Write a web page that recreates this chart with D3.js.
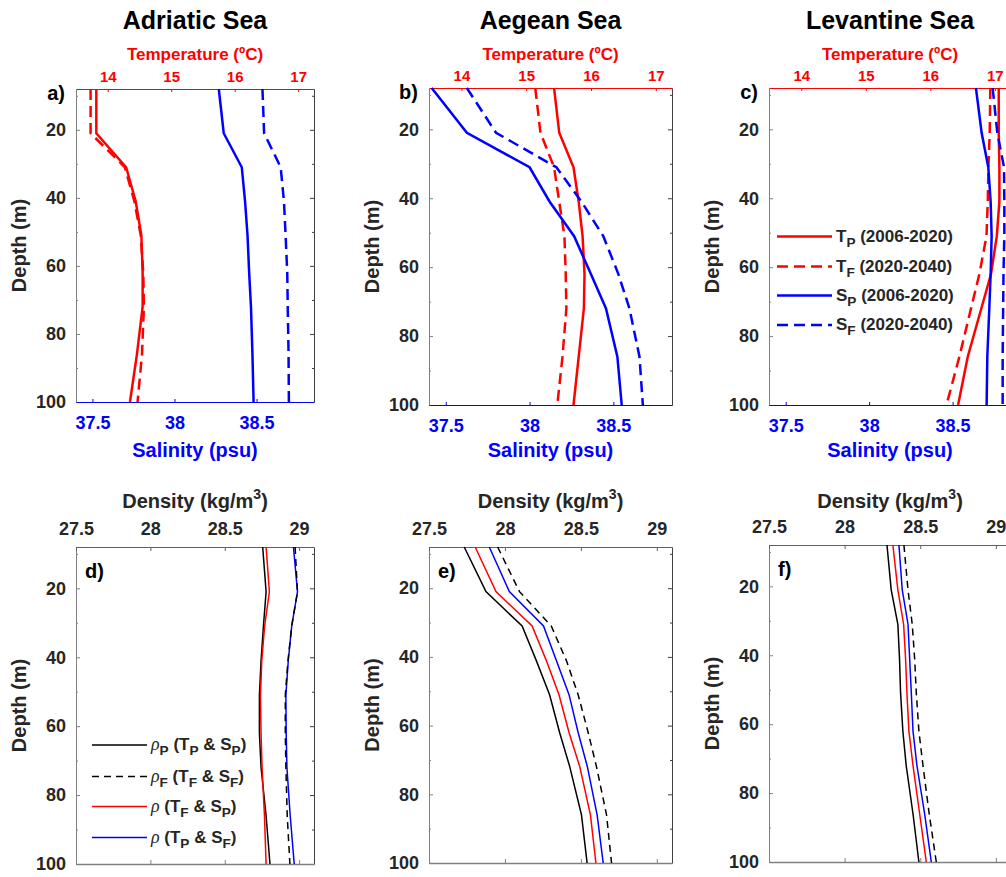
<!DOCTYPE html>
<html>
<head>
<meta charset="utf-8">
<script src="https://cdn.jsdelivr.net/npm/d3@7/dist/d3.min.js"></script>
<style>
  html, body { margin: 0; padding: 0; background: #fff; }
  svg { display: block; }
  text { font-family: "Liberation Sans", Arial, Helvetica, sans-serif; font-weight: bold; }
</style>
</head>
<body>
<svg id="chart" width="1006" height="877"></svg>
<script>
// ---------------- DATA ----------------
const depth = [8, 21, 31, 41, 51, 62, 72, 86, 100];
const regions = ["Adriatic Sea", "Aegean Sea", "Levantine Sea"];
const tempTicks = [14, 15, 16, 17];
const salTicks = [37.5, 38, 38.5];
const densTicks = [27.5, 28, 28.5, 29];
const depthTicks = [20, 40, 60, 80, 100];
const depthMinorTicks = [10, 30, 50, 70, 90];

// Temperature (ºC)
const tempPresent = [
  [13.82, 13.82, 14.29, 14.44, 14.53, 14.55, 14.55, 14.46, 14.35],   // Adriatic
  [15.43, 15.51, 15.73, 15.81, 15.87, 15.90, 15.89, 15.81, 15.73],   // Aegean
  [17.06, 17.06, 17.07, 17.07, 17.03, 16.94, 16.79, 16.58, 16.43]    // Levantine
];
const tempFuture = [
  [13.73, 13.73, 14.27, 14.42, 14.52, 14.56, 14.57, 14.54, 14.47],
  [15.14, 15.22, 15.43, 15.51, 15.59, 15.61, 15.62, 15.56, 15.48],
  [16.93, 16.92, 16.90, 16.89, 16.87, 16.76, 16.63, 16.45, 16.25]
];
// Salinity (psu)
const salPresent = [
  [38.27, 38.30, 38.41, 38.43, 38.445, 38.455, 38.466, 38.475, 38.482],
  [37.416, 37.626, 38.0, 38.12, 38.266, 38.366, 38.456, 38.524, 38.55],
  [38.64, 38.674, 38.714, 38.728, 38.734, 38.728, 38.72, 38.708, 38.704]
];
const salFuture = [
  [38.536, 38.546, 38.647, 38.667, 38.677, 38.687, 38.69, 38.695, 38.697],
  [37.626, 37.80, 38.16, 38.31, 38.44, 38.53, 38.596, 38.656, 38.676],
  [38.74, 38.768, 38.808, 38.81, 38.81, 38.805, 38.803, 38.80, 38.80]
];
// Density (kg/m3)
const rhoPresent = [
  [28.755, 28.778, 28.76, 28.744, 28.733, 28.733, 28.744, 28.778, 28.804],
  [27.732, 27.875, 28.113, 28.206, 28.294, 28.36, 28.427, 28.504, 28.541],
  [28.28, 28.308, 28.352, 28.363, 28.37, 28.385, 28.407, 28.452, 28.491]
];
const rhoFuture = [
  [28.973, 28.989, 28.95, 28.925, 28.907, 28.907, 28.911, 28.92, 28.938],
  [27.952, 28.096, 28.305, 28.404, 28.482, 28.548, 28.603, 28.669, 28.702],
  [28.392, 28.419, 28.447, 28.463, 28.474, 28.491, 28.518, 28.559, 28.606]
];
const rhoTfSp = [
  [28.778, 28.80, 28.768, 28.749, 28.74, 28.744, 28.751, 28.767, 28.778],
  [27.804, 27.941, 28.179, 28.272, 28.356, 28.422, 28.493, 28.563, 28.599],
  [28.319, 28.352, 28.39, 28.403, 28.412, 28.425, 28.452, 28.496, 28.54]
];
const rhoTpSf = [
  [28.962, 28.989, 28.95, 28.927, 28.911, 28.913, 28.918, 28.94, 28.967],
  [27.897, 28.029, 28.254, 28.338, 28.422, 28.482, 28.543, 28.607, 28.647],
  [28.359, 28.381, 28.419, 28.43, 28.441, 28.452, 28.478, 28.529, 28.573]
];
const panelLetters = [["a)", "b)", "c)"], ["d)", "e)", "f)"]];

// ---------------- LAYOUT ----------------
const topBoxes = [
  {x0: 76, x1: 314, y0: 89, y1: 402},
  {x0: 429, x1: 672, y0: 88, y1: 405},
  {x0: 769, x1: 1011, y0: 88, y1: 405}
];
const botBoxes = [
  {x0: 76, x1: 314, y0: 547, y1: 864},
  {x0: 429, x1: 672, y0: 547, y1: 863},
  {x0: 769, x1: 1011, y0: 545, y1: 862}
];
const TXT = "#262626";
const RED = "#ff0000";
const BLUE = "#0000ff";
const fmt = d => String(d);

const svg = d3.select("#chart");
svg.append("rect").attr("width", 1006).attr("height", 877).attr("fill", "#fff");

function richText(g, x, y, segs, size, anchor, color) {
  const t = g.append("text").attr("x", x).attr("y", y)
    .attr("font-size", size).attr("fill", color || TXT)
    .attr("text-anchor", anchor || "start");
  let shift = 0;
  segs.forEach(s => {
    const ts = t.append("tspan").text(s.t);
    let target = 0;
    if (s.sub) { target = size * 0.3; ts.attr("font-size", size * 0.8); }
    if (s.sup) { target = -size * 0.45; ts.attr("font-size", size * 0.7); }
    if (target !== shift) { ts.attr("dy", target - shift); shift = target; }
    if (s.italic) {
      ts.attr("font-style", "italic").attr("font-weight", "normal")
        .attr("font-family", "'Liberation Serif', 'DejaVu Serif', serif")
        .attr("font-size", size * 1.05);
    }
  });
  return t;
}

function styleAxis(g, color, fontSize) {
  g.select(".domain").attr("stroke", color);
  g.selectAll(".tick line").attr("stroke", color);
  g.selectAll(".tick text").attr("fill", color).attr("font-size", fontSize)
    .attr("font-family", "'Liberation Sans', Arial, sans-serif").attr("font-weight", "bold");
}

function depthAxes(g, b, y) {
  const left = g.append("g").attr("transform", `translate(${b.x0},0)`)
    .call(d3.axisLeft(y).tickValues(depthTicks).tickFormat(fmt).tickSizeInner(-4).tickSizeOuter(0).tickPadding(10));
  styleAxis(left, "#808080", 18);
  left.selectAll(".tick text").attr("fill", TXT);
  const leftMinor = g.append("g").attr("transform", `translate(${b.x0},0)`)
    .call(d3.axisLeft(y).tickValues(depthMinorTicks).tickSizeInner(-2).tickSizeOuter(0).tickFormat(""));
  leftMinor.select(".domain").remove();
  leftMinor.selectAll("line").attr("stroke", "#808080");
  const right = g.append("g").attr("transform", `translate(${b.x1},0)`)
    .call(d3.axisRight(y).tickValues(depthTicks).tickSizeInner(-4).tickSizeOuter(0).tickFormat(""));
  styleAxis(right, "#404040", 18);
  const rightMinor = g.append("g").attr("transform", `translate(${b.x1},0)`)
    .call(d3.axisRight(y).tickValues(depthMinorTicks).tickSizeInner(-2).tickSizeOuter(0).tickFormat(""));
  rightMinor.select(".domain").remove();
  rightMinor.selectAll("line").attr("stroke", "#404040");
  const cy = (b.y0 + b.y1) / 2;
  g.append("text").attr("transform", `translate(${b.x0 - 50},${cy}) rotate(-90)`)
    .attr("text-anchor", "middle").attr("font-size", 20).attr("fill", TXT).text("Depth (m)");
}

// ---------------- TOP ROW ----------------
topBoxes.forEach((b, i) => {
  const g = svg.append("g");
  const y = d3.scaleLinear().domain([8, 100]).range([b.y0, b.y1]);
  const xT = d3.scaleLinear().domain([13.5, 17.25]).range([b.x0, b.x1]);
  const xS = d3.scaleLinear().domain([37.4, 38.85]).range([b.x0, b.x1]);
  const cx = (b.x0 + b.x1) / 2;

  g.append("text").attr("x", cx).attr("y", 29).attr("text-anchor", "middle")
    .attr("font-size", 25).attr("fill", "#000").text(regions[i]);
  g.append("text").attr("x", cx).attr("y", 59.5).attr("text-anchor", "middle")
    .attr("font-size", 17).attr("fill", RED).text("Temperature (ºC)");
  g.append("text").attr("x", cx).attr("y", 457).attr("text-anchor", "middle")
    .attr("font-size", 20).attr("fill", BLUE).text("Salinity (psu)");

  depthAxes(g, b, y);

  const topAx = g.append("g").attr("transform", `translate(0,${b.y0})`)
    .call(d3.axisTop(xT).tickValues(tempTicks).tickFormat(fmt).tickSizeInner(-3).tickSizeOuter(0).tickPadding(7));
  styleAxis(topAx, RED, 15);
  const botAx = g.append("g").attr("transform", `translate(0,${b.y1})`)
    .call(d3.axisBottom(xS).tickValues(salTicks).tickFormat(fmt).tickSizeInner(-3).tickSizeOuter(0).tickPadding(14));
  styleAxis(botAx, BLUE, 18);

  g.append("text").attr("x", b.x0 - 11).attr("y", b.y0 + 11).attr("text-anchor", "end")
    .attr("font-size", 20).attr("fill", "#000").text(panelLetters[0][i]);

  const lineT = d3.line().x(d => xT(d[0])).y(d => y(d[1]));
  const lineS = d3.line().x(d => xS(d[0])).y(d => y(d[1]));
  const series = [
    {v: tempPresent[i], f: lineT, c: RED, dash: null},
    {v: tempFuture[i], f: lineT, c: RED, dash: "11,6"},
    {v: salPresent[i], f: lineS, c: BLUE, dash: null},
    {v: salFuture[i], f: lineS, c: BLUE, dash: "11,6"}
  ];
  series.forEach(s => {
    g.append("path").datum(s.v.map((v, k) => [v, depth[k]]))
      .attr("d", s.f).attr("fill", "none").attr("stroke", s.c)
      .attr("stroke-width", 2.5).attr("stroke-dasharray", s.dash);
  });
});

// Legend (panel c)
const legTop = [
  {c: RED, dash: null, segs: [{t: "T"}, {t: "P", sub: true}, {t: " (2006-2020)"}]},
  {c: RED, dash: "11,6", segs: [{t: "T"}, {t: "F", sub: true}, {t: " (2020-2040)"}]},
  {c: BLUE, dash: null, segs: [{t: "S"}, {t: "P", sub: true}, {t: " (2006-2020)"}]},
  {c: BLUE, dash: "11,6", segs: [{t: "S"}, {t: "F", sub: true}, {t: " (2020-2040)"}]}
];
const legTopY = [236.5, 266.5, 295.5, 325];
legTop.forEach((l, k) => {
  const yy = legTopY[k];
  svg.append("line").attr("x1", 777).attr("x2", 832).attr("y1", yy).attr("y2", yy)
    .attr("stroke", l.c).attr("stroke-width", 2.5).attr("stroke-dasharray", l.dash);
  richText(svg, 836, yy + 5, l.segs, 17);
});

// ---------------- BOTTOM ROW ----------------
botBoxes.forEach((b, i) => {
  const g = svg.append("g");
  const y = d3.scaleLinear().domain([8, 100]).range([b.y0, b.y1]);
  const xR = d3.scaleLinear().domain([27.5, 29.1]).range([b.x0, b.x1]);
  const cx = (b.x0 + b.x1) / 2;

  richText(g, cx, 508, [{t: "Density (kg/m"}, {t: "3", sup: true}, {t: ")"}], 20, "middle");

  depthAxes(g, b, y);
  const topAx = g.append("g").attr("transform", `translate(0,${b.y0})`)
    .call(d3.axisTop(xR).tickValues(densTicks).tickFormat(fmt).tickSizeInner(-4).tickSizeOuter(0).tickPadding(12));
  styleAxis(topAx, "#606060", 18);
  topAx.selectAll(".tick text").attr("fill", TXT);
  const botAx = g.append("g").attr("transform", `translate(0,${b.y1})`)
    .call(d3.axisBottom(xR).tickValues(densTicks).tickSizeInner(-4).tickSizeOuter(0).tickFormat(""));
  styleAxis(botAx, "#808080", 18);
  botAx.select(".domain").attr("stroke-width", 1.5);

  g.append("text").attr("x", b.x0 + 9).attr("y", b.y0 + 31)
    .attr("font-size", 20).attr("fill", "#000").text(panelLetters[1][i]);

  const line = d3.line().x(d => xR(d[0])).y(d => y(d[1]));
  const series = [
    {v: rhoPresent[i], c: "#000", dash: null},
    {v: rhoTfSp[i], c: RED, dash: null},
    {v: rhoTpSf[i], c: BLUE, dash: null},
    {v: rhoFuture[i], c: "#000", dash: "7,5"}
  ];
  series.forEach(s => {
    g.append("path").datum(s.v.map((v, k) => [v, depth[k]]))
      .attr("d", line).attr("fill", "none").attr("stroke", s.c)
      .attr("stroke-width", 1.5).attr("stroke-dasharray", s.dash);
  });
});

// Legend (panel d)
const legBot = [
  {c: "#000", dash: null, segs: [{t: "ρ", italic: true}, {t: "P", sub: true}, {t: " (T"}, {t: "P", sub: true}, {t: " & S"}, {t: "P", sub: true}, {t: ")"}]},
  {c: "#000", dash: "7,5", segs: [{t: "ρ", italic: true}, {t: "F", sub: true}, {t: " (T"}, {t: "F", sub: true}, {t: " & S"}, {t: "F", sub: true}, {t: ")"}]},
  {c: RED, dash: null, segs: [{t: "ρ", italic: true}, {t: " (T"}, {t: "F", sub: true}, {t: " & S"}, {t: "P", sub: true}, {t: ")"}]},
  {c: BLUE, dash: null, segs: [{t: "ρ", italic: true}, {t: " (T"}, {t: "P", sub: true}, {t: " & S"}, {t: "F", sub: true}, {t: ")"}]}
];
const legBotY = [745, 776.5, 806.5, 837.5];
legBot.forEach((l, k) => {
  const yy = legBotY[k];
  svg.append("line").attr("x1", 92).attr("x2", 147).attr("y1", yy).attr("y2", yy)
    .attr("stroke", l.c).attr("stroke-width", 1.5).attr("stroke-dasharray", l.dash);
  richText(svg, 151, yy + 5, l.segs, 17);
});
</script>
</body>
</html>
